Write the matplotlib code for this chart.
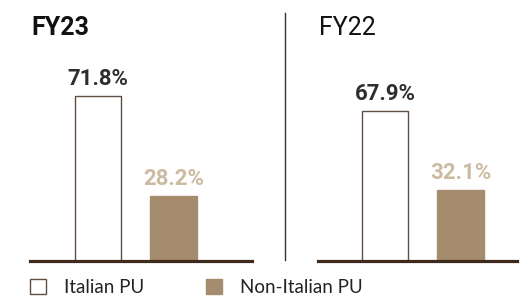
import matplotlib
matplotlib.use("Agg")
import matplotlib.pyplot as plt
from matplotlib.patches import Patch
from matplotlib.lines import Line2D

# ---- data ----
periods = ["FY23", "FY22"]
categories = ["Italian PU", "Non-Italian PU"]
fy23_values = [71.8, 28.2]
fy22_values = [67.9, 32.1]
value_labels_fy23 = ["71.8%", "28.2%"]
value_labels_fy22 = ["67.9%", "32.1%"]

# ---- style ----
W, H = 532, 297
DPI = 100
BAR_FILL = ["white", "#a68c6f"]
BAR_EDGE = ["#5e4d42", "#a68c6f"]
LABEL_COLORS = ["#2e2e2e", "#cbbba2"]
BASE_COLOR = "#3e2a1c"
FONT = "Roboto"

fig = plt.figure(figsize=(W / DPI, H / DPI), dpi=DPI)
fig.patch.set_facecolor("white")


def px_axes(x0, x1, ytop, ybot):
    return fig.add_axes([x0 / W, (H - ybot) / H, (x1 - x0) / W, (ybot - ytop) / H])


def draw_panel(ax, values, labels, xlim, ymax):
    xs = list(range(len(values)))
    ax.bar(xs, values, width=0.62, color=BAR_FILL, edgecolor=BAR_EDGE,
           linewidth=1.0, zorder=2)
    for x, v, lab, c in zip(xs, values, labels, LABEL_COLORS):
        ax.annotate(lab, (x, v), xytext=(0, 17), textcoords="offset pixels",
                    ha="center", va="center", fontsize=16, fontweight="bold",
                    color=c, family=FONT)
    ax.axhline(0, color=BASE_COLOR, linewidth=2.3, clip_on=False, zorder=3)
    ax.set_xlim(*xlim)
    ax.set_ylim(0, ymax)
    ax.axis("off")


ax1 = px_axes(30, 252, 40, 261)
draw_panel(ax1, fy23_values, value_labels_fy23, (-0.90, 2.04), 96)

ax2 = px_axes(318, 517, 40, 261)
draw_panel(ax2, fy22_values, value_labels_fy22, (-0.887, 1.748), 100)

# titles
fig.text(31 / W, (H - 35) / H, periods[0], fontsize=18, fontweight="bold",
         family=FONT, color="#111111", va="baseline", ha="left")
fig.text(319 / W, (H - 35) / H, periods[1], fontsize=18, fontweight="normal",
         family=FONT, color="#111111", va="baseline", ha="left")

# divider
fig.add_artist(Line2D([285 / W, 285 / W], [(H - 13) / H, (H - 260) / H],
                      color="#333333", linewidth=1.0))

# legend
handles = [Patch(facecolor=BAR_FILL[0], edgecolor=BAR_EDGE[0], linewidth=1.0),
           Patch(facecolor=BAR_FILL[1], edgecolor=BAR_EDGE[1], linewidth=1.0)]
leg = fig.legend(handles, categories, loc="lower left",
                 bbox_to_anchor=(30 / W, 1 / H), ncol=2, frameon=False,
                 prop={"family": "Lato", "size": 13.5},
                 handlelength=0.85, handleheight=0.85, handletextpad=0.95,
                 columnspacing=3.3, borderpad=0, borderaxespad=0)
for t in leg.get_texts():
    t.set_color("#222222")

fig.savefig("out.png", dpi=DPI, facecolor="white")
